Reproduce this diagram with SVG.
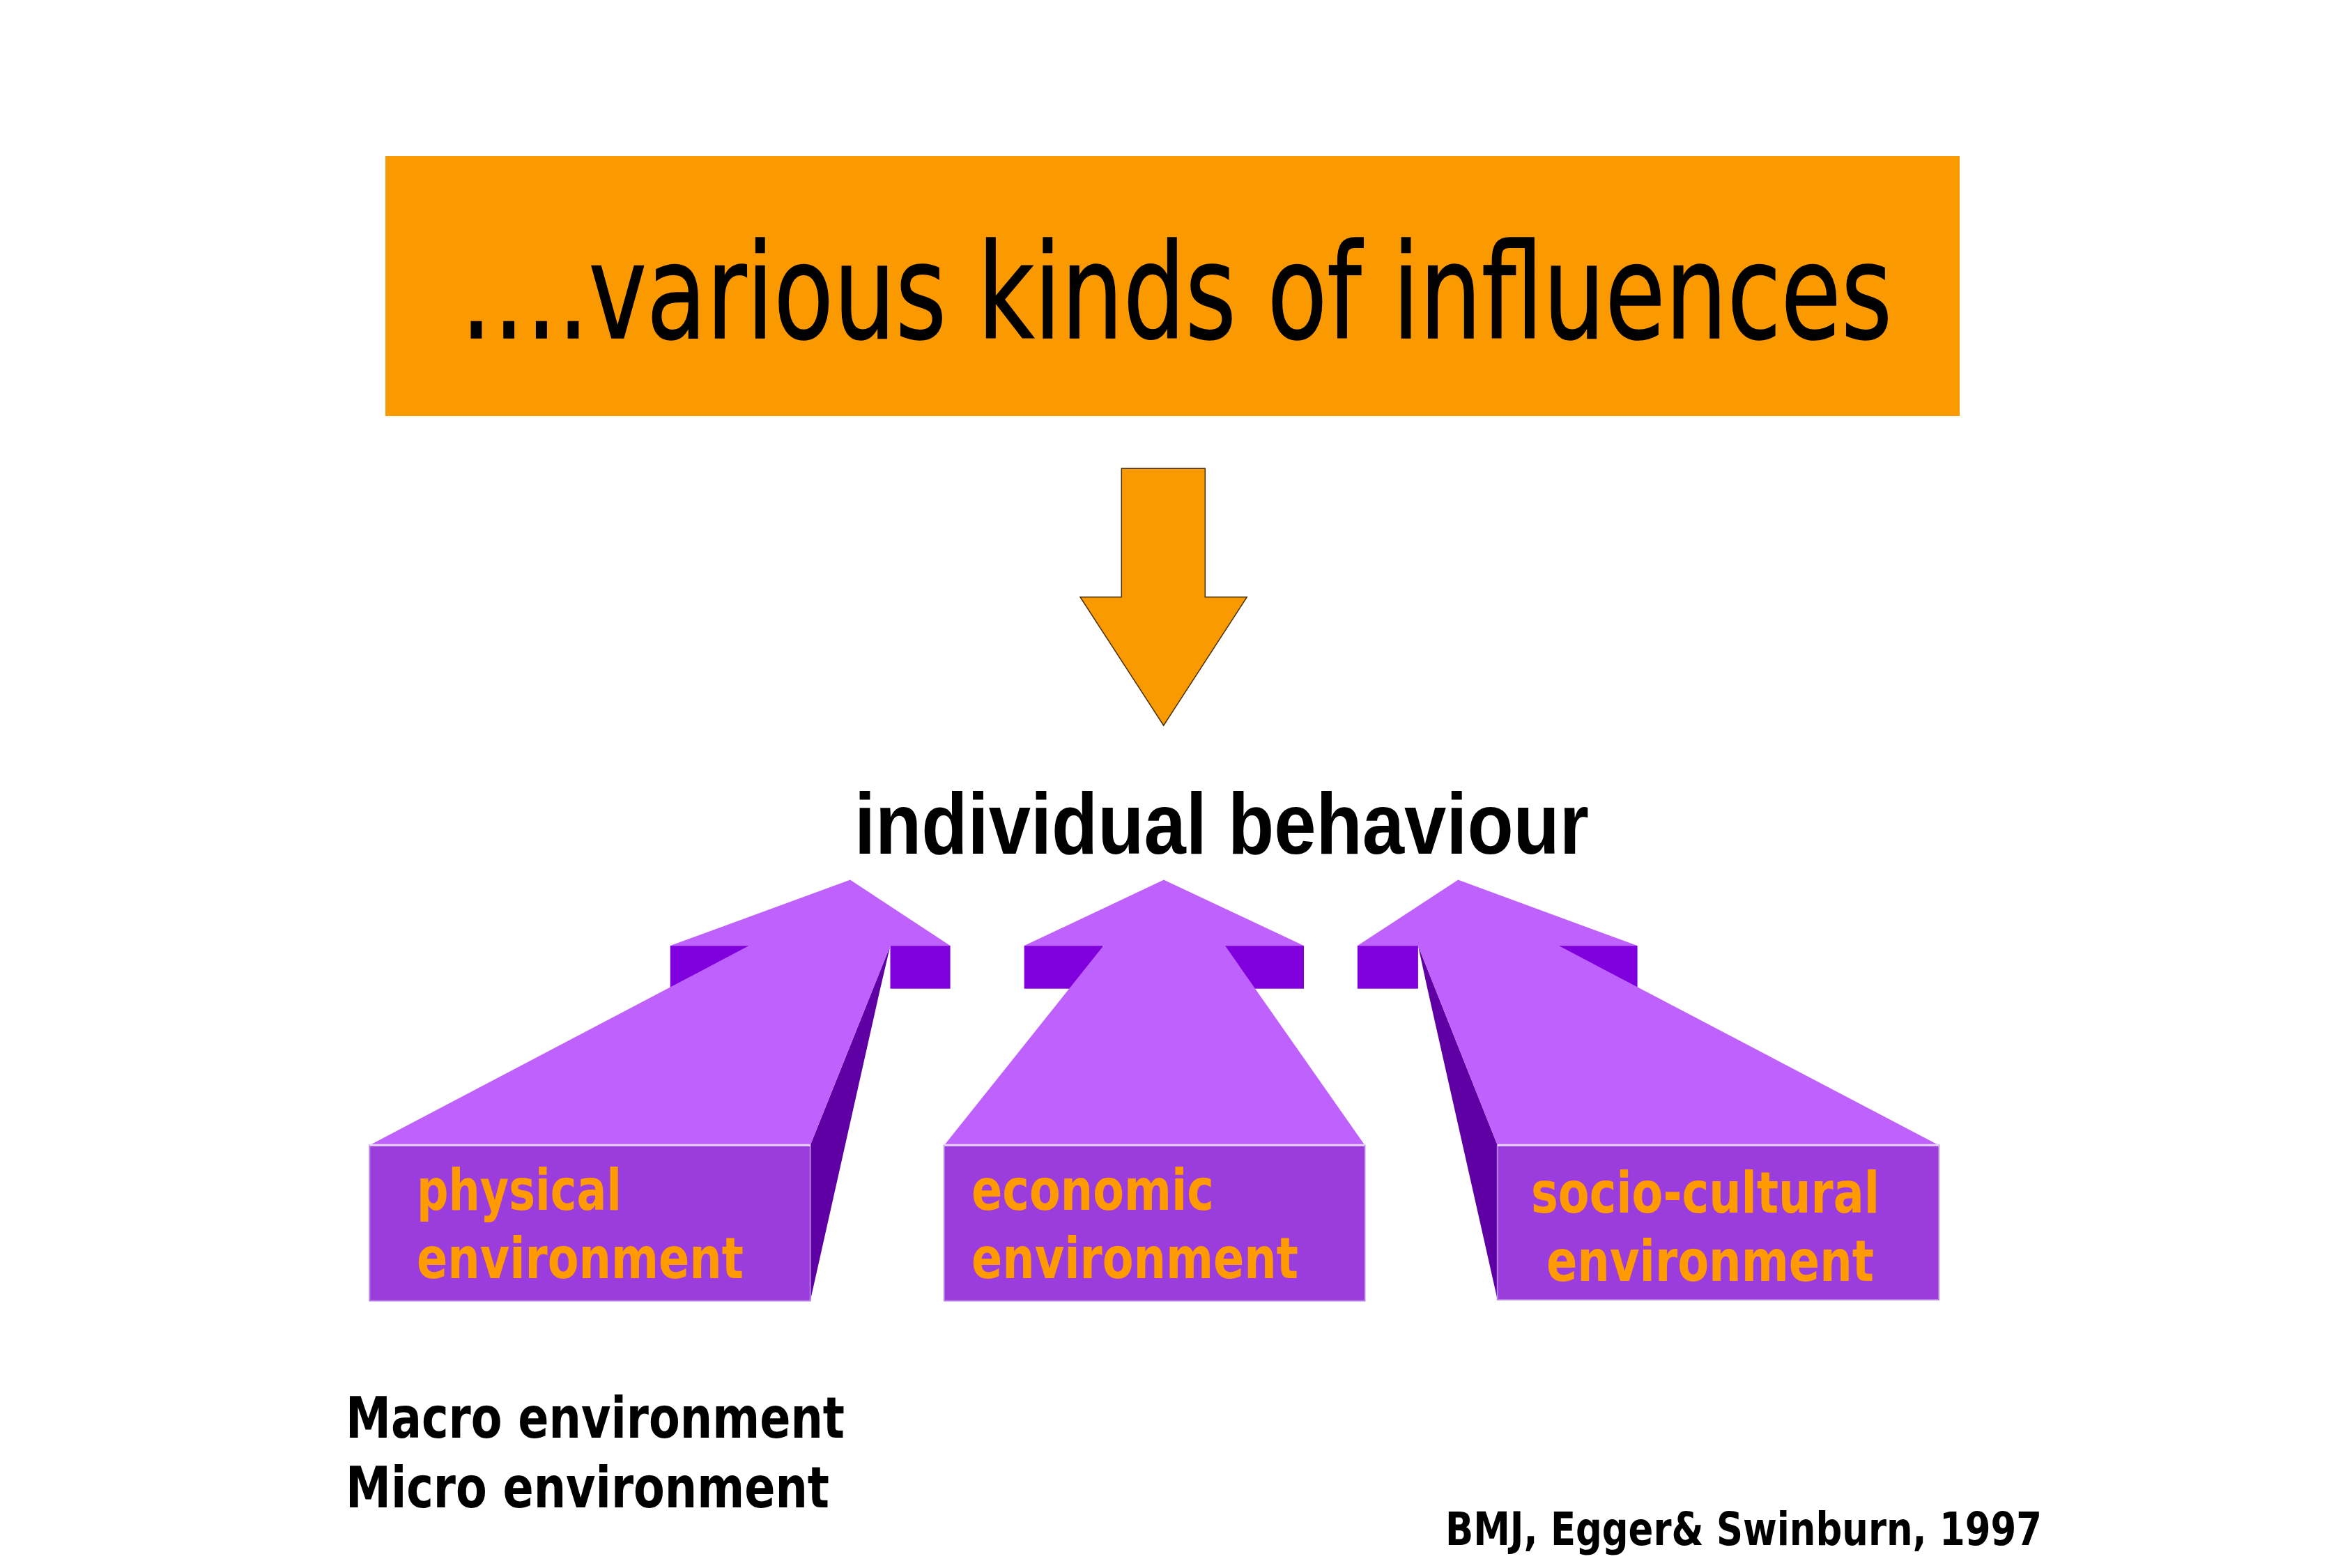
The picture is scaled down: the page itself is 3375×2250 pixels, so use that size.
<svg xmlns="http://www.w3.org/2000/svg" width="3375" height="2250" viewBox="0 0 3375 2250">
<style>
.light{fill:#BF62FD}
.block{fill:#7F00DD}
.strip{fill:#5E00A3}
.box{fill:#9B3DDC;stroke:#B77BEA;stroke-width:2}
.edge{stroke:#E9D4FB;stroke-width:3}
.lbl{font-family:"DejaVu Sans Condensed","DejaVu Sans",sans-serif;font-weight:bold;font-size:82px;fill:#FF9A00}
.blk{font-family:"DejaVu Sans Condensed","DejaVu Sans",sans-serif;font-weight:bold;fill:#000}
</style>
<rect width="3375" height="2250" fill="#FFFFFF"/>
<g id="title">
<rect x="553" y="224" width="2259" height="373" fill="#FA9A00"/>
<text x="660" y="485" font-family="DejaVu Sans Condensed, DejaVu Sans, sans-serif" font-size="189" fill="#000" stroke="#000" stroke-width="1.5" textLength="2055" lengthAdjust="spacingAndGlyphs">….various kinds of influences</text>
</g>
<g id="connectors">
<polygon points="1609.3,672.3 1729.3,672.3 1729.3,856.7 1789.3,856.7 1669.7,1041 1550,856.7 1609.3,856.7" fill="#F99B00" stroke="#4A3000" stroke-width="1.5"/>
</g>
<g id="individual-behaviour">
<text x="1226" y="1225" font-family="Liberation Sans, Arial, sans-serif" font-weight="bold" font-size="125" fill="#000" textLength="1054" lengthAdjust="spacingAndGlyphs">individual behaviour</text>
</g>
<g id="physical">
<rect class="block" x="961.8" y="1357.1" width="112.9" height="61.6"/>
<rect class="block" x="1277.5" y="1357.1" width="86.1" height="61.6"/>
<polygon class="strip" points="1277.5,1357.1 1263.1,1418.7 1162.7,1866.5 1162.7,1643.3"/>
<polygon class="light" points="1220,1262.5 1363.6,1357.1 1277.5,1357.1 1162.7,1643.3 530.4,1643.3 1074.7,1357.1 961.8,1357.1"/>
<rect class="box" x="530.4" y="1643.3" width="632.3" height="223.2"/>
<line class="edge" x1="530.4" y1="1643.3" x2="1162.7" y2="1643.3"/>
<text class="lbl" x="598" y="1736" textLength="294" lengthAdjust="spacingAndGlyphs">physical</text>
<text class="lbl" x="598" y="1834" textLength="469" lengthAdjust="spacingAndGlyphs">environment</text>
</g>
<g id="economic">
<rect class="block" x="1469.7" y="1357.1" width="113" height="61.6"/>
<rect class="block" x="1757.7" y="1357.1" width="113.3" height="61.6"/>
<polygon class="light" points="1670,1262.5 1871,1357.1 1758,1357.1 1958.4,1643.3 1355,1643.3 1583.5,1357.1 1469.7,1357.1"/>
<rect class="box" x="1355" y="1643.3" width="603.4" height="223.2"/>
<line class="edge" x1="1355" y1="1643.3" x2="1958.4" y2="1643.3"/>
<text class="lbl" x="1394" y="1736" textLength="348" lengthAdjust="spacingAndGlyphs">economic</text>
<text class="lbl" x="1394" y="1834" textLength="469" lengthAdjust="spacingAndGlyphs">environment</text>
</g>
<g id="socio-cultural">
<rect class="block" x="1947.9" y="1357.1" width="87" height="61.6"/>
<rect class="block" x="2236.8" y="1357.1" width="112.8" height="61.6"/>
<polygon class="strip" points="2034.9,1357.1 2048.3,1418.7 2148.8,1865 2148.8,1643.3"/>
<polygon class="light" points="2092.3,1262.5 2349.6,1357.1 2236.8,1357.1 2782,1643.3 2148.8,1643.3 2034.9,1357.1 1947.9,1357.1"/>
<rect class="box" x="2148.8" y="1643.3" width="633.2" height="221.7"/>
<line class="edge" x1="2148.8" y1="1643.3" x2="2782" y2="1643.3"/>
<text class="lbl" x="2197" y="1740" textLength="500" lengthAdjust="spacingAndGlyphs">socio-cultural</text>
<text class="lbl" x="2219" y="1838" textLength="470" lengthAdjust="spacingAndGlyphs">environment</text>
</g>
<g id="macro-micro">
<text class="blk" x="496" y="2063" font-size="82" textLength="716" lengthAdjust="spacingAndGlyphs">Macro environment</text>
<text class="blk" x="496" y="2163" font-size="82" textLength="694" lengthAdjust="spacingAndGlyphs">Micro environment</text>
</g>
<g id="citation">
<text class="blk" x="2074" y="2217" font-size="66" textLength="856" lengthAdjust="spacingAndGlyphs">BMJ, Egger&amp; Swinburn, 1997</text>
</g>
</svg>
